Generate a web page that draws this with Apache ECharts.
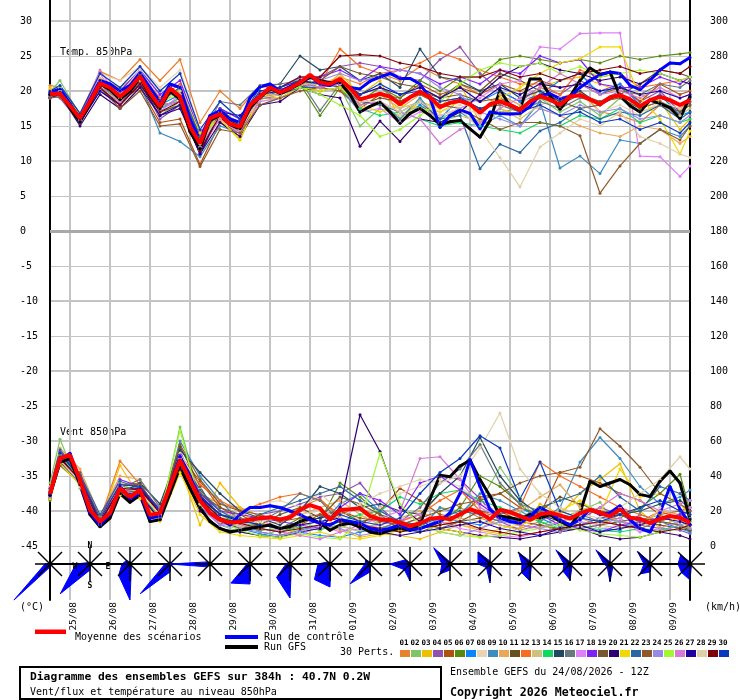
<!DOCTYPE html>
<html>
<head>
<meta charset="UTF-8">
<script src="https://cdn.jsdelivr.net/npm/echarts@6/dist/echarts.min.js"></script>
<style>
    html, body {margin: 0; padding: 0; background: #fff;}
    #chart {width: 740px; height: 700px;}
</style>
</head>
<body>
<div id="chart"></div>
<script type="text/javascript">
var MONO = 'DejaVu Sans Mono';

// x = index of 6h step from 24/08 12Z (0..64 = 384h)
var STEPS = [];
for (var s = 0; s <= 64; s++) STEPS.push(s);
// perturbations read every 12h
var PERT_STEPS = [0];
for (var s2 = 1; s2 <= 63; s2 += 2) PERT_STEPS.push(s2);
PERT_STEPS.push(64);

var DATES = ['25/08', '26/08', '27/08', '28/08', '29/08', '30/08', '31/08', '01/09',
    '02/09', '03/09', '04/09', '05/09', '06/09', '07/09', '08/09', '09/09'];

var PERT_COLORS = ['#e8812e', '#80c468', '#f0c000', '#9050b0', '#b05010', '#588a10', '#0a84ff', '#e8d4b0',
    '#3c8cc0', '#e8a858', '#685020', '#f86c20', '#d0c080', '#10d860', '#204860', '#687880', '#e080f8',
    '#8020f8', '#785830', '#300070', '#f0d800', '#2868a0', '#905828', '#9888e8', '#a0f830', '#d878d8',
    '#2000a0', '#e0d0a8', '#800008', '#0838c0'];

// temperature 850hPa (°C), 6h
var TEMP_MEAN = [19.6, 19.6, 17.9, 16.1, 18.5, 21.1, 20.5, 19.2, 20.4, 22.1,
    19.7, 17.8, 20.4, 19.2, 14.9, 12.5, 16.1, 16.7, 15.3, 14.9,
    18.0, 19.2, 20.5, 19.8, 20.4, 21.2, 22.3, 21.2, 21.0, 21.7,
    20.4, 18.8, 19.2, 19.6, 19.2, 18.1, 19.1, 19.9, 19.1, 17.7,
    18.3, 18.6, 18.1, 16.9, 18.1, 18.5, 18.0, 17.3, 18.5, 19.3,
    18.8, 18.0, 19.2, 19.4, 18.8, 18.1, 19.1, 19.4, 18.8, 17.8,
    18.7, 19.2, 18.7, 18.0, 18.7];
var TEMP_CTRL = [19.8, 20.3, 18.2, 16.0, 18.8, 21.5, 21.0, 20.0, 20.8, 22.6,
    20.5, 18.5, 21.0, 20.5, 16.0, 13.0, 16.5, 17.2, 16.0, 15.5,
    19.0, 20.6, 21.0, 20.0, 20.6, 21.2, 22.2, 21.0, 20.8, 21.5,
    20.5, 20.3, 21.4, 22.0, 22.5, 21.8, 21.8, 21.0, 19.0, 14.8,
    16.5, 17.3, 16.8, 14.6, 17.0, 16.8, 16.7, 16.8, 17.8, 19.4,
    19.6, 18.9, 19.2, 20.5, 21.5, 22.3, 22.7, 22.5, 20.8, 20.2,
    21.5, 23.0, 24.0, 23.9, 24.8];
var TEMP_GFS = [19.5, 19.8, 17.6, 15.6, 18.2, 21.0, 20.2, 18.8, 20.0, 21.8,
    19.4, 17.5, 20.0, 18.8, 14.2, 11.8, 15.8, 16.5, 15.2, 14.6,
    17.6, 19.0, 20.4, 19.6, 20.3, 21.0, 22.0, 21.5, 21.2, 21.2,
    19.5, 17.0, 17.8, 18.4, 17.0, 15.4, 16.8, 17.5, 16.5, 15.2,
    15.6, 15.8, 14.6, 13.4, 15.8, 20.1, 17.9, 17.4, 21.7, 21.7,
    19.3, 17.4, 19.2, 21.5, 23.3, 22.4, 22.7, 19.3, 17.9, 17.0,
    18.7, 18.2, 17.6, 16.1, 19.2];
// perturbations 01..30, 12h
var TEMP_PERTS = [
    [20.8, 20.5, 16.8, 22.8, 21.5, 24.5, 21.5, 24.5, 15.5, 20.0, 17.5, 20.8, 20.0, 21.5, 20.5, 22.0, 21.0, 22.5, 21.5, 23.5, 22.0, 21.0, 19.5, 18.0, 17.0, 20.5, 19.0, 20.0, 17.0, 16.5, 15.5, 18.0, 17.5, 18.5],
    [19.8, 21.5, 16.5, 20.5, 19.0, 21.0, 16.5, 18.5, 12.0, 16.0, 14.5, 18.8, 19.5, 22.0, 21.5, 20.5, 15.0, 17.5, 16.5, 18.0, 16.0, 17.5, 15.5, 17.0, 17.5, 19.0, 17.0, 18.5, 16.5, 19.0, 17.5, 18.5, 17.0, 18.0],
    [20.5, 20.0, 16.0, 21.8, 20.5, 22.5, 18.5, 20.0, 13.5, 16.0, 13.0, 19.0, 20.0, 21.0, 20.0, 22.5, 19.5, 21.5, 16.0, 18.5, 17.5, 21.0, 15.5, 17.5, 16.5, 20.5, 21.5, 22.0, 21.0, 20.0, 19.5, 18.5, 14.5, 16.0],
    [19.5, 19.0, 15.5, 20.0, 18.0, 21.5, 16.0, 18.0, 11.0, 16.5, 14.5, 19.5, 20.5, 21.5, 22.0, 23.5, 24.0, 23.5, 22.0, 21.5, 24.5, 26.3, 22.5, 20.0, 18.5, 20.5, 19.5, 21.5, 20.0, 21.0, 18.5, 20.0, 17.0, 18.5],
    [19.0, 19.5, 15.8, 21.0, 18.5, 20.5, 15.5, 16.0, 9.5, 15.5, 14.0, 19.0, 19.0, 20.5, 20.5, 20.0, 17.5, 19.5, 19.0, 21.0, 19.5, 20.5, 19.5, 21.0, 20.0, 21.5, 20.5, 21.0, 19.5, 20.5, 18.5, 21.0, 19.5, 20.0],
    [19.8, 20.0, 16.5, 21.5, 19.5, 22.5, 18.0, 20.5, 12.5, 17.5, 15.0, 19.5, 20.0, 21.0, 16.5, 20.5, 18.5, 20.5, 19.0, 21.5, 20.0, 22.0, 22.0, 24.5, 25.0, 24.5, 24.0, 24.5, 24.0, 25.0, 24.5, 25.0, 25.3, 25.5],
    [19.5, 20.5, 16.0, 21.0, 19.5, 22.0, 18.0, 19.5, 13.0, 17.0, 15.5, 19.0, 20.0, 21.5, 21.0, 21.0, 17.0, 18.5, 15.5, 18.0, 16.0, 19.0, 18.5, 20.0, 18.5, 19.5, 21.5, 22.5, 19.5, 21.0, 18.0, 19.5, 16.5, 17.0],
    [20.0, 20.5, 16.0, 22.5, 21.5, 23.5, 20.5, 23.0, 14.5, 17.0, 15.0, 19.5, 20.0, 21.0, 20.5, 21.5, 17.5, 18.0, 16.5, 18.5, 17.0, 18.0, 16.5, 19.5, 18.0, 20.5, 18.5, 19.5, 17.0, 18.0, 16.5, 18.5, 17.5, 18.0],
    [19.2, 19.5, 15.5, 20.0, 18.5, 21.0, 14.0, 12.8, 10.6, 15.0, 14.0, 18.0, 19.0, 20.5, 21.0, 20.5, 17.0, 18.5, 16.0, 19.0, 15.5, 17.0, 15.0, 16.5, 15.0, 18.5, 9.0, 10.7, 8.2, 13.0, 12.5, 14.5, 13.5, 15.0],
    [20.3, 20.0, 16.5, 21.5, 19.0, 22.0, 17.5, 19.0, 12.5, 17.0, 15.5, 19.5, 19.5, 21.0, 21.0, 22.0, 19.0, 19.5, 17.5, 19.5, 18.0, 19.0, 17.0, 19.5, 18.0, 17.5, 16.5, 15.0, 14.0, 13.5, 15.0, 14.5, 12.5, 13.5],
    [19.0, 19.5, 16.0, 20.5, 18.5, 21.5, 17.0, 18.0, 11.5, 16.5, 14.0, 19.0, 19.5, 20.5, 21.5, 20.5, 18.0, 19.0, 18.5, 20.0, 19.0, 21.0, 20.0, 22.5, 21.5, 20.0, 18.5, 17.5, 18.0, 19.5, 21.0, 23.0, 22.5, 22.0],
    [20.0, 20.0, 16.5, 21.5, 19.5, 22.5, 19.0, 21.0, 13.0, 17.0, 15.0, 19.5, 20.0, 21.5, 21.0, 26.0, 23.5, 22.5, 23.0, 24.0, 25.5, 24.5, 23.0, 22.0, 21.0, 21.0, 19.5, 23.0, 22.0, 22.5, 20.5, 21.0, 21.5, 22.0],
    [19.5, 19.5, 15.8, 20.5, 18.5, 21.5, 17.5, 19.0, 12.0, 16.0, 14.0, 18.5, 19.0, 20.5, 20.0, 20.5, 19.0, 18.0, 17.5, 18.5, 15.5, 16.5, 15.5, 17.5, 16.0, 18.0, 19.0, 19.5, 18.5, 19.0, 17.0, 18.0, 16.5, 17.5],
    [19.8, 20.0, 16.3, 21.0, 19.0, 22.0, 17.5, 19.0, 12.5, 16.5, 15.0, 19.0, 19.5, 20.5, 20.0, 20.5, 17.5, 16.5, 17.0, 16.0, 15.0, 15.5, 15.0, 14.5, 14.0, 15.5, 15.0, 16.5, 16.0, 17.5, 15.5, 16.5, 15.5, 16.0],
    [19.5, 20.0, 16.0, 21.5, 19.5, 22.5, 18.5, 20.5, 13.5, 17.5, 16.0, 20.5, 21.0, 25.0, 23.0, 23.5, 21.5, 22.5, 20.5, 26.0, 22.0, 21.5, 20.0, 21.0, 19.0, 20.0, 18.5, 20.0, 18.0, 19.5, 18.0, 19.0, 18.0, 19.0],
    [19.2, 19.8, 16.2, 21.0, 19.5, 22.5, 18.5, 20.0, 13.0, 18.5, 18.0, 20.8, 21.0, 21.5, 17.2, 21.0, 19.5, 20.5, 18.5, 20.0, 18.5, 19.0, 17.5, 18.0, 17.0, 18.5, 17.5, 19.0, 18.5, 20.0, 19.5, 21.0, 20.5, 21.5],
    [19.0, 19.5, 15.5, 22.5, 18.0, 21.0, 17.0, 19.5, 11.5, 16.0, 14.0, 18.5, 19.0, 20.5, 20.5, 21.0, 17.0, 17.5, 15.5, 17.0, 16.5, 17.5, 19.0, 21.0, 21.5, 26.3, 26.0, 28.2, 28.3, 28.3, 10.7, 10.6, 7.8, 9.3],
    [19.5, 20.0, 16.5, 21.5, 20.0, 23.0, 19.5, 21.5, 14.0, 17.5, 16.0, 20.0, 20.5, 22.0, 22.0, 23.0, 21.5, 23.5, 23.0, 22.5, 21.0, 22.0, 21.0, 23.0, 22.5, 25.0, 24.0, 24.5, 21.0, 20.5, 20.5, 22.0, 21.0, 22.0],
    [19.8, 19.8, 16.2, 21.2, 19.0, 22.0, 18.0, 18.5, 11.5, 16.5, 14.5, 19.0, 19.5, 21.0, 21.5, 23.5, 22.5, 22.0, 21.0, 20.5, 19.0, 19.5, 18.5, 19.0, 17.5, 19.0, 18.0, 19.5, 18.5, 19.0, 17.5, 18.5, 17.0, 18.0],
    [19.0, 19.5, 15.0, 19.5, 17.5, 20.5, 16.5, 17.5, 11.0, 15.5, 13.5, 18.0, 18.5, 20.5, 19.5, 19.0, 12.1, 15.7, 12.8, 16.0, 15.5, 17.0, 19.5, 22.0, 23.5, 24.0, 23.0, 22.5, 21.5, 22.0, 21.0, 22.5, 21.5, 21.0],
    [20.2, 20.5, 16.5, 21.0, 20.0, 22.0, 18.0, 20.5, 14.0, 16.0, 13.0, 19.5, 19.0, 20.5, 20.0, 20.5, 18.0, 17.0, 18.0, 17.5, 17.0, 18.5, 17.0, 19.0, 20.5, 22.5, 24.0, 24.6, 26.3, 26.3, 19.0, 16.0, 11.0, 14.3],
    [19.5, 20.0, 16.0, 21.5, 19.5, 22.5, 18.5, 20.5, 13.5, 17.0, 15.0, 19.0, 19.5, 20.5, 20.5, 21.0, 18.5, 18.0, 17.0, 18.5, 16.0, 16.5, 8.9, 12.4, 11.2, 14.3, 15.5, 17.5, 16.0, 17.0, 16.5, 18.0, 16.0, 17.0],
    [19.0, 19.2, 15.5, 20.5, 17.5, 20.0, 15.0, 15.3, 9.2, 14.5, 14.0, 18.0, 19.0, 20.0, 20.5, 21.0, 19.0, 19.5, 18.5, 19.5, 18.0, 17.5, 16.0, 14.5, 15.5, 15.5, 15.0, 13.6, 5.4, 9.3, 12.5, 14.5, 13.0, 15.0],
    [19.5, 19.5, 16.0, 20.5, 19.0, 22.0, 17.5, 18.5, 12.0, 16.5, 14.5, 19.5, 20.5, 22.0, 21.5, 22.5, 21.5, 22.0, 23.0, 22.5, 20.5, 19.5, 17.0, 16.0, 15.0, 17.5, 16.5, 18.0, 17.0, 17.5, 16.0, 16.5, 15.5, 16.5],
    [19.8, 20.5, 16.5, 21.0, 19.0, 22.0, 18.5, 19.5, 13.0, 17.0, 15.5, 19.5, 20.0, 20.5, 19.5, 18.0, 16.5, 13.5, 14.5, 16.5, 18.5, 21.0, 23.0, 24.0, 23.5, 24.0, 22.5, 23.5, 22.0, 22.5, 23.0, 22.5, 21.5, 22.0],
    [19.5, 20.0, 16.0, 23.0, 18.5, 22.0, 18.0, 18.5, 12.5, 16.0, 14.5, 19.0, 19.5, 21.0, 20.5, 21.0, 18.0, 18.5, 17.0, 16.0, 12.5, 14.5, 15.5, 17.5, 19.0, 20.5, 22.5, 21.0, 19.5, 20.0, 19.0, 20.5, 19.0, 19.5],
    [19.5, 19.5, 15.5, 20.0, 18.0, 21.0, 16.5, 18.0, 11.0, 17.0, 16.5, 19.5, 20.0, 21.5, 21.0, 21.5, 19.5, 20.5, 19.5, 20.5, 19.0, 20.5, 18.5, 20.5, 19.5, 21.0, 20.5, 21.0, 20.0, 20.5, 19.5, 20.0, 19.0, 19.5],
    [20.0, 20.0, 16.0, 21.5, 19.5, 23.0, 18.5, 20.0, 12.5, 16.5, 14.5, 19.0, 19.5, 21.0, 21.0, 21.5, 18.5, 18.5, 17.0, 18.5, 16.5, 17.5, 14.5, 10.5, 6.3, 12.0, 14.0, 16.0, 15.0, 17.0, 13.5, 12.5, 11.0, 10.5],
    [19.5, 19.5, 15.5, 20.5, 18.0, 21.0, 17.0, 18.5, 11.5, 16.5, 15.0, 19.5, 20.5, 22.0, 22.0, 25.0, 25.2, 25.0, 24.0, 23.5, 22.5, 22.0, 22.0, 23.0, 22.0, 22.5, 21.5, 22.5, 23.0, 23.5, 22.5, 23.0, 22.5, 23.5],
    [20.0, 20.8, 16.8, 22.5, 20.5, 23.5, 20.0, 22.5, 14.5, 18.5, 16.0, 20.0, 20.5, 21.5, 21.0, 21.5, 19.5, 21.0, 19.5, 20.0, 18.5, 19.0, 17.5, 18.5, 17.0, 18.0, 16.5, 17.0, 15.5, 16.0, 14.5, 15.5, 14.0, 15.5]
];

// wind 850hPa (km/h), 6h
var WIND_MEAN = [29.7, 50.0, 52.0, 37.7, 20.6, 13.9, 18.8, 33.0, 28.0, 32.0,
    17.7, 18.8, 34.0, 49.0, 37.7, 26.0, 18.8, 14.9, 13.3, 13.9,
    15.2, 15.8, 16.4, 15.2, 16.4, 20.6, 23.4, 21.5, 14.9, 20.6,
    21.0, 21.5, 17.1, 15.2, 14.9, 13.3, 11.4, 13.0, 15.6, 16.2,
    15.2, 18.1, 21.0, 19.0, 15.2, 20.6, 19.4, 17.1, 14.9, 18.1,
    19.0, 17.5, 15.6, 18.7, 20.6, 19.0, 17.1, 21.0, 16.2, 15.6,
    13.0, 15.6, 17.1, 16.2, 13.3];
var WIND_CTRL = [30, 49, 53, 36, 19, 12, 18, 34, 27, 30,
    16, 17, 35, 51, 40, 27, 19, 15, 12, 18,
    22, 22, 23, 22, 20, 18, 15, 13, 12, 15,
    14, 13, 10, 9, 10, 12, 9, 10, 12, 14,
    19, 30, 49.5, 34, 21, 16, 14, 13, 17, 22,
    19, 15, 12, 15, 21, 18, 19, 23, 15, 10,
    8, 19, 34, 21, 12.4];
var WIND_GFS = [29, 48, 50, 35, 18, 11, 16, 30, 25, 29,
    14, 15, 30, 45, 33, 22, 14, 10, 8, 9,
    10, 11, 12, 10, 11, 14, 16, 13, 9, 12,
    13, 11, 8, 7, 9, 10, 9, 12.4, 26.7, 40.4,
    39.6, 45.7, 49, 38, 28.6, 17, 16.2, 15, 18, 16,
    18, 14, 11.4, 19, 37, 34, 36, 38, 35, 29.5,
    28.2, 37, 42.9, 36, 15.2];
var WIND_PERTS = [
    [33, 52, 40, 15, 48.6, 35, 17, 50, 30, 24, 22, 17, 14, 22, 27, 16, 13, 10, 14, 18, 30, 22, 16, 12, 10, 14, 20, 16, 12, 18, 14, 20, 15, 10],
    [36, 61, 33, 12, 30, 30, 16, 68, 28, 12, 8, 6, 9, 14, 10, 12, 8, 14, 14, 10, 22, 20, 25, 45, 28, 12, 16, 20, 25, 10, 14, 18, 12, 8],
    [31, 55, 35, 13, 46, 28, 15, 45, 12, 36, 22, 8, 6, 10, 12, 9, 5, 7, 6, 4, 8, 12, 9, 7, 10, 24, 18, 30, 38, 47, 20, 10, 17, 12],
    [28, 50, 38, 16, 30, 33, 20, 55, 25, 13, 12, 18, 20, 24, 28, 30, 36, 22, 12, 16, 40, 38, 27, 14, 9, 12, 10, 15, 22, 18, 12, 10, 9, 7],
    [30, 47, 42, 14, 35, 36, 18, 52, 37, 22, 16, 10, 8, 12, 18, 14, 12, 20, 33, 26, 18, 16, 28, 30, 22, 18, 42, 40, 36, 30, 26, 18, 20, 22],
    [26, 49, 36, 13, 32, 31, 19, 48, 27, 18, 12, 9, 10, 16, 14, 36, 28, 18, 9, 11, 13, 22, 40, 34, 24, 14, 9, 12, 14, 16, 22, 30, 41, 20],
    [29, 53, 39, 15, 34, 29, 17, 46, 22, 14, 10, 7, 5, 8, 6, 5, 8, 10, 12, 9, 16, 14, 12, 18, 22, 16, 11, 14, 10, 9, 18, 14, 10, 8],
    [32, 51, 34, 12, 36, 34, 21, 53, 33, 16, 18, 24, 26, 22, 30, 20, 15, 22, 30, 34, 38, 34, 24, 20, 16, 22, 18, 14, 10, 12, 8, 22, 30, 26],
    [30, 48, 37, 14, 33, 30, 18, 60, 40, 26, 14, 8, 6, 9, 12, 24, 30, 20, 14, 10, 22, 18, 30, 26, 20, 14, 22, 48, 62, 50, 34, 24, 28, 32],
    [34, 56, 44, 17, 40, 38, 22, 44, 30, 20, 16, 12, 14, 18, 22, 26, 18, 12, 16, 20, 14, 12, 10, 16, 20, 28, 35, 22, 18, 14, 12, 20, 18, 14],
    [27, 50, 40, 14, 31, 33, 17, 57, 34, 15, 10, 12, 18, 22, 16, 20, 14, 16, 10, 8, 12, 14, 16, 20, 14, 20, 28, 24, 20, 18, 14, 12, 10, 9],
    [31, 52, 36, 12, 34, 32, 18, 50, 35, 26, 20, 24, 28, 30, 26, 18, 22, 16, 14, 18, 26, 32, 20, 16, 22, 48, 40, 34, 28, 22, 18, 14, 12, 10],
    [29, 54, 38, 16, 36, 30, 19, 47, 24, 14, 11, 13, 10, 12, 14, 11, 9, 12, 8, 10, 12, 16, 14, 12, 9, 11, 14, 16, 12, 10, 12, 14, 12, 10],
    [30, 51, 39, 15, 33, 34, 20, 45, 26, 16, 14, 10, 8, 11, 9, 14, 18, 20, 28, 24, 30, 32, 26, 22, 18, 14, 10, 12, 9, 8, 10, 9, 12, 14],
    [27, 48, 36, 14, 30, 36, 24, 55, 42, 30, 20, 16, 12, 20, 34, 30, 22, 24, 20, 18, 30, 40, 62, 40, 26, 18, 14, 12, 16, 18, 20, 24, 26, 22],
    [30, 50, 37, 13, 33, 38, 22, 49, 28, 18, 16, 14, 20, 30, 26, 14, 12, 10, 14, 22, 36, 44, 58, 36, 24, 20, 16, 18, 14, 12, 10, 14, 18, 16],
    [31, 49, 38, 15, 34, 27, 16, 48, 24, 12, 14, 16, 8, 6, 12, 8, 10, 12, 15, 18, 14, 10, 8, 6, 5, 8, 10, 14, 12, 16, 8, 10, 14, 22],
    [33, 54, 40, 16, 38, 34, 21, 52, 30, 20, 18, 16, 14, 12, 10, 22, 30, 26, 18, 36, 40, 32, 24, 16, 14, 18, 12, 10, 8, 12, 14, 16, 18, 20],
    [28, 46, 36, 12, 32, 31, 17, 46, 30, 22, 18, 12, 10, 14, 16, 28, 24, 18, 14, 12, 10, 14, 20, 18, 14, 12, 9, 10, 12, 14, 16, 14, 12, 9],
    [29, 50, 38, 13, 31, 29, 15, 44, 20, 10, 8, 6, 5, 8, 10, 22, 75, 54, 22, 14, 10, 8, 6, 5, 4, 6, 8, 10, 6, 4, 5, 8, 6, 4],
    [27, 47, 35, 14, 29, 27, 14, 42, 18, 8, 6, 5, 4, 6, 8, 5, 4, 6, 9, 12, 10, 8, 5, 10, 12, 16, 20, 26, 18, 44, 28, 30, 24, 18],
    [32, 55, 41, 18, 37, 33, 19, 51, 32, 20, 14, 18, 22, 26, 30, 34, 26, 20, 14, 12, 16, 20, 18, 14, 16, 22, 26, 30, 40, 28, 20, 34, 30, 26],
    [30, 53, 39, 16, 35, 35, 20, 58, 38, 24, 20, 18, 14, 16, 18, 20, 16, 14, 12, 16, 20, 24, 26, 30, 36, 40, 42, 45, 67, 57, 45, 30, 24, 20],
    [28, 49, 36, 14, 31, 30, 18, 46, 22, 12, 10, 8, 6, 8, 12, 10, 6, 8, 10, 12, 8, 6, 10, 14, 12, 10, 8, 12, 16, 14, 10, 8, 12, 10],
    [31, 52, 37, 13, 33, 31, 17, 66, 24, 14, 9, 6, 5, 7, 5, 4, 14, 53, 24, 12, 8, 6, 5, 6, 8, 10, 12, 9, 7, 6, 5, 8, 10, 12],
    [29, 50, 38, 14, 32, 32, 18, 50, 26, 16, 12, 10, 8, 6, 4, 8, 12, 16, 20, 50, 51, 38, 22, 16, 12, 10, 14, 18, 22, 30, 26, 20, 24, 26],
    [30, 51, 37, 13, 33, 33, 19, 48, 28, 18, 14, 12, 10, 12, 14, 16, 10, 8, 6, 8, 10, 12, 14, 10, 8, 6, 10, 12, 8, 10, 12, 16, 14, 12],
    [30, 49, 37, 15, 34, 31, 18, 47, 26, 14, 12, 14, 16, 18, 20, 16, 24, 30, 34, 38, 36, 40, 56, 76, 44, 30, 22, 18, 16, 22, 30, 38, 51, 44],
    [29, 50, 38, 14, 33, 32, 19, 49, 27, 16, 13, 10, 8, 10, 12, 14, 12, 10, 8, 10, 12, 14, 10, 8, 6, 8, 10, 12, 14, 12, 10, 8, 10, 12],
    [31, 53, 39, 15, 35, 34, 20, 51, 29, 18, 15, 12, 10, 14, 16, 18, 14, 12, 16, 30, 42, 50, 63, 56, 27, 48, 20, 16, 14, 18, 22, 26, 20, 18]
];

// daily wind roses: sector lengths N, NE, E, SE, S, SW, W, NW
var ROSE_STEPS = [0, 4, 8, 12, 16, 20, 24, 28, 32, 36, 40, 44, 48, 52, 56, 60, 64];
var ROSE_LEN = [
    [1, 1, 1, 1, 3, 51, 5, 1],
    [1, 1, 1, 1, 6, 42, 14, 2],
    [2, 1, 1, 2, 36, 16, 8, 5],
    [1, 1, 1, 1, 8, 42, 5, 1],
    [1, 1, 1, 1, 1, 4, 40, 3],
    [1, 1, 1, 1, 20, 27, 3, 1],
    [1, 1, 1, 2, 34, 19, 4, 2],
    [1, 1, 1, 1, 23, 22, 12, 3],
    [2, 1, 1, 1, 8, 28, 5, 6],
    [1, 1, 1, 1, 17, 8, 20, 6],
    [2, 1, 1, 1, 6, 14, 8, 23],
    [3, 1, 1, 2, 19, 5, 12, 17],
    [3, 1, 1, 2, 17, 12, 8, 16],
    [2, 1, 1, 3, 16, 10, 6, 20],
    [2, 1, 1, 4, 18, 4, 6, 20],
    [2, 1, 1, 2, 8, 14, 6, 18],
    [2, 1, 1, 2, 16, 12, 12, 13]
];

var chart = echarts.init(document.getElementById('chart'));

var pairs = function (steps, vals) {
    return vals.map(function (v, i) { return [steps[i], v]; });
};

var GRID_LINE = '#c4c4c4';
var AXIS_BLACK = {show: true, lineStyle: {color: '#000', width: 2}};
var vGridX = function (gridIndex) {
    return {
        type: 'value', gridIndex: gridIndex, min: 0, max: 64, interval: 4,
        axisLine: {show: false}, axisTick: {show: false}, axisLabel: {show: false},
        splitLine: {show: false},
        minorTick: {show: false, splitNumber: 2},
        minorSplitLine: {show: true, lineStyle: {color: GRID_LINE, width: 2}}
    };
};
var edgeY = function (gridIndex, pos, min, max) {
    return {
        type: 'value', gridIndex: gridIndex, position: pos, min: min, max: max,
        axisLine: AXIS_BLACK, axisTick: {show: false}, axisLabel: {show: false}, splitLine: {show: false}
    };
};

var series = [];
// perturbations
TEMP_PERTS.forEach(function (vals, k) {
    series.push({
        type: 'line', xAxisIndex: 0, yAxisIndex: 0, data: pairs(PERT_STEPS, vals),
        symbol: 'circle', symbolSize: 3, showSymbol: true,
        lineStyle: {width: 1.2, color: PERT_COLORS[k]}, itemStyle: {color: PERT_COLORS[k]}
    });
});
WIND_PERTS.forEach(function (vals, k) {
    series.push({
        type: 'line', xAxisIndex: 0, yAxisIndex: 1, data: pairs(PERT_STEPS, vals),
        symbol: 'circle', symbolSize: 3, showSymbol: true,
        lineStyle: {width: 1.2, color: PERT_COLORS[k]}, itemStyle: {color: PERT_COLORS[k]}
    });
});
// GFS, control, mean
[[TEMP_GFS, 0, '#000000'], [WIND_GFS, 1, '#000000'], [TEMP_CTRL, 0, '#0000ff'], [WIND_CTRL, 1, '#0000ff']].forEach(function (d) {
    series.push({
        type: 'line', xAxisIndex: 0, yAxisIndex: d[1], data: pairs(STEPS, d[0]),
        symbol: 'circle', symbolSize: 3, showSymbol: true, z: 3,
        lineStyle: {width: 3, color: d[2]}, itemStyle: {color: d[2]}
    });
});
series.push({
    type: 'line', xAxisIndex: 0, yAxisIndex: 0, data: pairs(STEPS, TEMP_MEAN),
    symbol: 'none', z: 4, lineStyle: {width: 4, color: '#ff0000'},
    markLine: {
        silent: true, symbol: 'none', label: {show: false}, z: 1,
        lineStyle: {color: '#a8a8a8', width: 3, type: 'solid'},
        data: [{yAxis: 0}]
    }
});
series.push({
    type: 'line', xAxisIndex: 0, yAxisIndex: 1, data: pairs(STEPS, WIND_MEAN),
    symbol: 'none', z: 4, lineStyle: {width: 4, color: '#ff0000'}
});
// wind roses
series.push({
    type: 'custom', coordinateSystem: 'cartesian2d', xAxisIndex: 2, yAxisIndex: 4,
    clip: false, silent: true, z: 5,
    data: ROSE_STEPS.map(function (st, i) { return [st].concat(ROSE_LEN[i]); }),
    renderItem: function (params, api) {
        var c = api.coord([api.value(0), 0]);
        var pts = [];
        for (var k = 0; k < 8; k++) {
            var r = api.size([0, api.value(k + 1)])[1];
            var a = k * Math.PI / 4;
            pts.push([c[0] + r * Math.sin(a), c[1] - r * Math.cos(a)]);
        }
        var children = [{type: 'polygon', shape: {points: pts}, style: {fill: '#0000ff', stroke: '#0000ff', lineWidth: 1}}];
        [[15, 0], [0, 17], [12, 12], [12, -12]].forEach(function (d) {
            children.push({
                type: 'line',
                shape: {x1: c[0] - d[0], y1: c[1] - d[1], x2: c[0] + d[0], y2: c[1] + d[1]},
                style: {stroke: '#000', lineWidth: 1.5}
            });
        });
        children.push({type: 'circle', shape: {cx: c[0], cy: c[1], r: 2.3}, style: {fill: '#000'}});
        if (params.dataIndex === 1) {
            [['N', 0, -18], ['S', 0, 22], ['W', -15, 3], ['E', 18, 3]].forEach(function (t) {
                children.push({
                    type: 'text', x: c[0] + t[1], y: c[1] + t[2],
                    style: {text: t[0], fill: '#000', font: 'bold 8px ' + MONO, align: 'center', verticalAlign: 'middle'}
                });
            });
        }
        return {type: 'group', children: children};
    }
});

// legend / titles
var txt = function (x, y, text, size, bold) {
    return {
        type: 'text', x: x, y: y, silent: true,
        style: {text: text, fill: '#000', font: (bold ? 'bold ' : '') + size + 'px ' + MONO, verticalAlign: 'middle'}
    };
};
var graphics = [
    txt(60, 52, 'Temp. 850hPa', 10),
    txt(60, 432, 'Vent 850hPa', 10),
    txt(20, 607, '(°C)', 10),
    txt(705, 607, '(km/h)', 10),
    {type: 'rect', shape: {x: 35, y: 629.5, width: 31, height: 4.5}, style: {fill: '#ff0000'}},
    txt(75, 637, 'Moyenne des scénarios', 10),
    {type: 'rect', shape: {x: 225, y: 635, width: 33, height: 4}, style: {fill: '#0000ff'}},
    txt(264, 637, 'Run de contrôle', 10),
    {type: 'rect', shape: {x: 225, y: 645, width: 33, height: 4}, style: {fill: '#000000'}},
    txt(264, 647, 'Run GFS', 10),
    txt(340, 652, '30 Perts.', 10),
    {type: 'rect', shape: {x: 20, y: 667, width: 421, height: 32}, style: {fill: 'none', stroke: '#000', lineWidth: 2}},
    txt(30, 677, 'Diagramme des ensembles GEFS sur 384h : 40.7N 0.2W', 11.3, true),
    txt(30, 692.5, 'Vent/flux et température au niveau 850hPa', 10),
    txt(450, 672.5, 'Ensemble GEFS du 24/08/2026 - 12Z', 10),
    txt(450, 692.5, 'Copyright 2026 Meteociel.fr', 11.6, true)
];
PERT_COLORS.forEach(function (col, i) {
    var x0 = 400 + i * 11;
    graphics.push({type: 'rect', shape: {x: x0, y: 650, width: 10, height: 7}, style: {fill: col}});
    graphics.push({
        type: 'text', x: x0 + 4, y: 643,
        style: {text: (i < 9 ? '0' : '') + (i + 1), fill: '#000', font: 'bold 7.5px ' + MONO, align: 'center', verticalAlign: 'middle'}
    });
});

var option = {
    animation: false,
    backgroundColor: '#ffffff',
    grid: [
        {left: 50, right: 50, top: 21, height: 525},
        {left: 50, right: 50, top: 0, height: 21},
        {left: 50, right: 50, top: 546, height: 54},
        {left: 50, right: 50, top: 21, height: 490}
    ],
    xAxis: [
        vGridX(0),
        vGridX(1),
        vGridX(2),
        {
            type: 'category', gridIndex: 2, position: 'bottom', data: DATES, boundaryGap: true,
            axisLine: AXIS_BLACK, axisTick: {show: false}, splitLine: {show: false},
            axisLabel: {
                show: true, interval: 0, rotate: 90, margin: 2, color: '#000',
                fontFamily: MONO, fontSize: 9.5, verticalAlign: 'top', lineHeight: 8
            }
        },
        {type: 'value', gridIndex: 3, min: 0, max: 64, show: false}
    ],
    yAxis: [
        {
            type: 'value', gridIndex: 0, position: 'left', min: -45, max: 30, interval: 5,
            axisLine: AXIS_BLACK, axisTick: {show: false},
            axisLabel: {align: 'left', margin: 30, color: '#000', fontFamily: MONO, fontSize: 10},
            splitLine: {show: true, lineStyle: {color: GRID_LINE, width: 1}}
        },
        {
            type: 'value', gridIndex: 0, position: 'right', min: 0, max: 300, interval: 20,
            axisLine: AXIS_BLACK, axisTick: {show: false},
            axisLabel: {align: 'left', margin: 20, color: '#000', fontFamily: MONO, fontSize: 10},
            splitLine: {show: false}
        },
        edgeY(1, 'left', 0, 1),
        edgeY(1, 'right', 0, 1),
        edgeY(2, 'left', -36, 18),
        edgeY(2, 'right', -36, 18),
        {
            type: 'value', gridIndex: 3, min: -40, max: 30, interval: 10,
            axisLine: {show: false}, axisTick: {show: false}, axisLabel: {show: false},
            splitLine: {show: true, lineStyle: {color: GRID_LINE, width: 2}}
        }
    ],
    graphic: graphics,
    series: series
};

chart.setOption(option);
</script>
</body>
</html>
